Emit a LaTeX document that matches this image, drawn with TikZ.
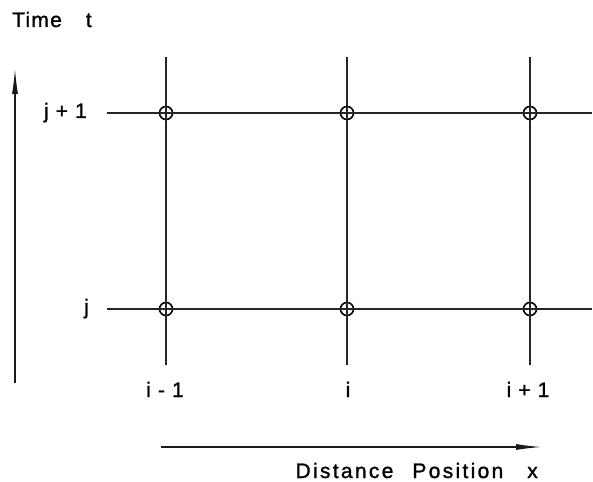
\documentclass[tikz,border=0pt]{standalone}
\usepackage{fontspec}
\setmainfont{Liberation Sans}[LetterSpace=6,FakeBold=1.2]
\usetikzlibrary{arrows.meta,positioning}

\begin{document}
\begin{tikzpicture}[
  x=1pt,y=-1pt,
  gridline/.style={line width=1.3pt,draw=black!85},
  node/.style={circle,draw=black,line width=1.6pt,inner sep=0pt,minimum size=13pt},
  lbl/.style={inner sep=0pt,font=\fontsize{21}{24}\selectfont},
  axis/.style={-{Latex[length=26pt,width=6pt]},line width=1.4pt,draw=black!90}
]
\useasboundingbox (0,0) rectangle (593,481);
% grid points
\node[node] (u1) at (166,113) {};
\node[node] (u2) at (347,113) {};
\node[node] (u3) at (530,113) {};
\node[node] (l1) at (166,309) {};
\node[node] (l2) at (347,309) {};
\node[node] (l3) at (530,309) {};
% line ends
\coordinate (top1) at (166,57);
\coordinate (top2) at (347,57);
\coordinate (top3) at (530,57);
\coordinate (bot1) at (166,365);
\coordinate (bot2) at (347,365);
\coordinate (bot3) at (530,365);
\coordinate (left1) at (107,113);
\coordinate (left2) at (107,309);
\coordinate (right1) at (592,113);
\coordinate (right2) at (592,309);
\draw[gridline](top1)--(u1.center)--(l1.center)--(bot1);
\draw[gridline](top2)--(u2.center)--(l2.center)--(bot2);
\draw[gridline](top3)--(u3.center)--(l3.center)--(bot3);
\draw[gridline](left1)--(u1.center)--(u2.center)--(u3.center)--(right1);
\draw[gridline](left2)--(l1.center)--(l2.center)--(l3.center)--(right2);
% axes
\coordinate (t0) at (15,383);
\coordinate (t1) at (15,68);
\coordinate (x0) at (161,447);
\coordinate (x1) at (542,447);
\draw[axis](t0)--(t1);
\draw[axis](x0)--(x1);
% labels
\node[lbl,anchor=base west] (tlbl) at (12,27) {Time\hspace{24pt}t};
\node[lbl,anchor=base east] (jp1) at (87,118) {j + 1};
\node[lbl,anchor=base east] (j) at (89,314) {j};
\node[lbl,anchor=base] (im1) at (165,397) {i - 1};
\node[lbl,anchor=base] (i) at (348,397) {i};
\node[lbl,anchor=base] (ip1) at (528,397) {i + 1};
\node[lbl,anchor=base east] (xlbl) at (538,478) {\addfontfeatures{LetterSpace=11}Distance\hspace{19pt}Position\hspace{24pt}x};
\end{tikzpicture}
\end{document}
